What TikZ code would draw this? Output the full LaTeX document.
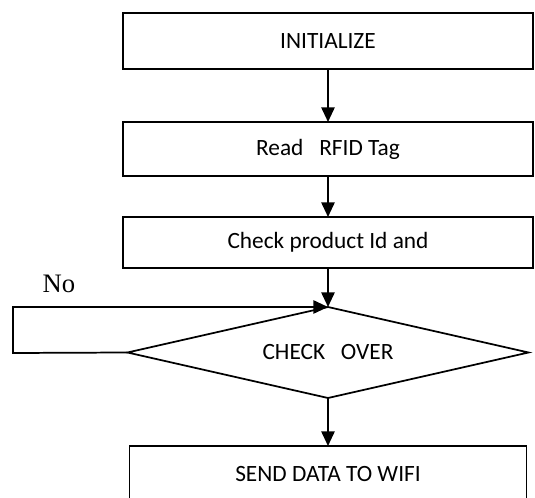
\documentclass[tikz,border=0pt]{standalone}
\usepackage{fontspec}
\setmainfont{Carlito}
\newfontfamily\serifno{Liberation Serif}
\usetikzlibrary{arrows.meta, positioning, shapes.geometric}

\begin{document}
\begin{tikzpicture}[
  box/.style={draw, line width=1.3pt, outer sep=0pt, align=center,
              font=\fontsize{17.5}{20}\selectfont,
              minimum width=307.5pt, minimum height=41pt},
  decision/.style={draw, diamond, aspect=4.4, line width=1.3pt, outer sep=0pt, inner sep=0pt,
              font=\fontsize{17.5}{20}\selectfont,
              minimum width=300.75pt, minimum height=68.25pt},
  arr/.style={-{Triangle[length=11pt, width=10pt]}, line width=1.3pt}
]
  \useasboundingbox (0,0) rectangle (401.25pt,-373.5pt);

  \node[box, minimum height=42pt] (init) at (246pt,-30.75pt) {INITIALIZE};
  \node[box, minimum height=40.5pt, below=39.75pt of init] (read) {Read\ \ \ RFID Tag};
  \node[box, minimum height=38.25pt, below=30.75pt of read] (prod) {Check product Id and};
  \node[decision, below=29.25pt of prod] (check) {CHECK\ \ \ OVER};
  \node[box, minimum width=297.75pt, minimum height=42pt, below=36pt of check] (send) {SEND DATA TO WIFI};

  % loop back on No
  \coordinate (noturn) at (9.75pt,-264.75pt);
  \node[font=\serifno\fontsize{20}{22}\selectfont] (nolabel) at (44.25pt,-213pt) {No};

  \draw[arr] (init) -- (read);
  \draw[arr] (read) -- (prod);
  \draw[arr] (prod) -- (check);
  \draw[arr] (check.west) -- (noturn) |- (check.north);
  \draw[arr] (check) -- (send);
\end{tikzpicture}
\end{document}
